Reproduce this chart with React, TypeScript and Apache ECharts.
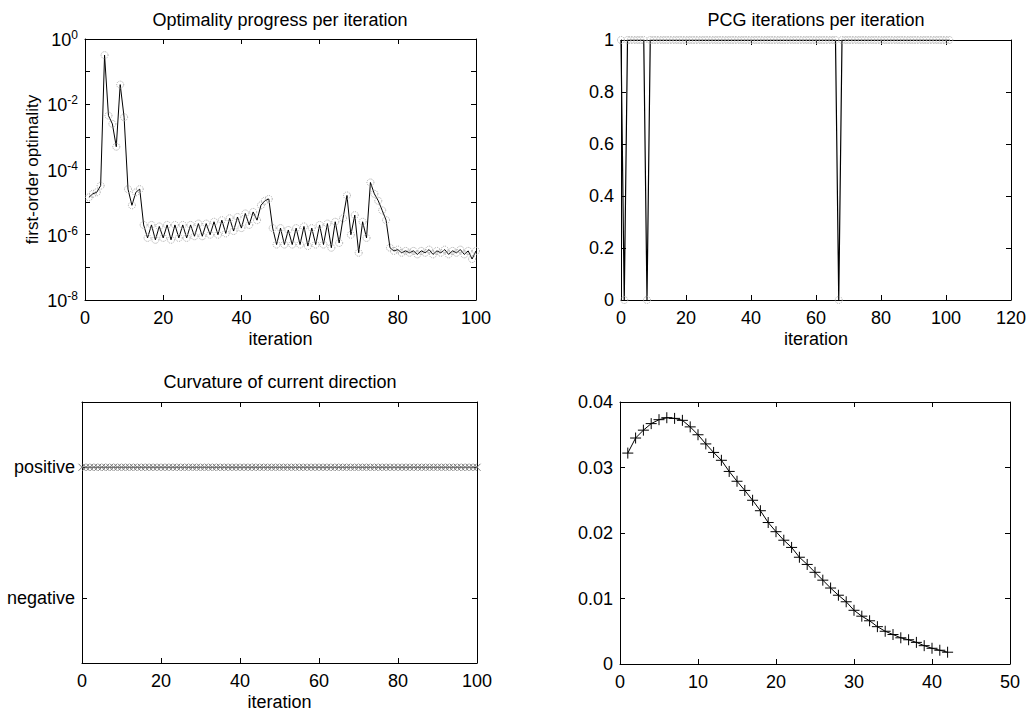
import React, { useEffect, useRef } from "react";
import * as echarts from "echarts";

const FONT = "'Liberation Sans', Arial, Helvetica, sans-serif";

// Panel 1: first-order optimality per iteration (iterations 1..100)
const optStart = 1;
const optValues = [
  1.4e-5, 1.8e-5, 2.0e-5, 3.2e-5, 0.32, 4.5e-3, 2.5e-3, 5.0e-4, 4.0e-2, 4.0e-3,
  2.5e-5, 8.0e-6, 2.0e-5, 2.5e-5, 2.0e-6, 8.0e-7, 2.0e-6, 7.0e-7, 1.8e-6, 8.0e-7,
  2.0e-6, 7.0e-7, 2.0e-6, 8.0e-7, 2.0e-6, 8.0e-7, 2.0e-6, 9.0e-7, 2.2e-6, 9.0e-7,
  2.2e-6, 1.0e-6, 2.5e-6, 1.0e-6, 2.8e-6, 1.1e-6, 3.2e-6, 1.3e-6, 3.5e-6, 1.6e-6,
  4.5e-6, 2.0e-6, 5.0e-6, 2.8e-6, 8.0e-6, 1.1e-5, 1.25e-5, 1.6e-6, 5.0e-7, 1.6e-6,
  5.0e-7, 1.4e-6, 5.0e-7, 1.6e-6, 5.0e-7, 1.8e-6, 4.5e-7, 1.6e-6, 5.0e-7, 2.0e-6,
  5.0e-7, 2.2e-6, 4.0e-7, 2.5e-6, 5.6e-7, 3.2e-6, 1.6e-5, 1.0e-6, 4.0e-6, 2.8e-7,
  2.5e-6, 8.0e-7, 4.0e-5, 1.8e-5, 1.1e-5, 5.6e-6, 2.8e-6, 4.0e-7, 3.2e-7, 3.5e-7,
  2.8e-7, 3.2e-7, 2.8e-7, 3.2e-7, 2.5e-7, 3.2e-7, 2.8e-7, 3.5e-7, 2.5e-7, 3.2e-7,
  2.8e-7, 3.5e-7, 2.5e-7, 3.2e-7, 2.8e-7, 3.5e-7, 2.5e-7, 3.2e-7, 1.8e-7, 3.2e-7,
];

// Panel 2: PCG iterations per iteration (iterations 0..101)
const pcgStart = 0;
const pcgValues = [
  1, 0, 1, 1, 1, 1, 1, 1, 0, 1,
  1, 1, 1, 1, 1, 1, 1, 1, 1, 1,
  1, 1, 1, 1, 1, 1, 1, 1, 1, 1,
  1, 1, 1, 1, 1, 1, 1, 1, 1, 1,
  1, 1, 1, 1, 1, 1, 1, 1, 1, 1,
  1, 1, 1, 1, 1, 1, 1, 1, 1, 1,
  1, 1, 1, 1, 1, 1, 1, 0, 1, 1,
  1, 1, 1, 1, 1, 1, 1, 1, 1, 1,
  1, 1, 1, 1, 1, 1, 1, 1, 1, 1,
  1, 1, 1, 1, 1, 1, 1, 1, 1, 1,
  1, 1,
];

// Panel 3: curvature of current direction (1 = positive, -1 = negative), iterations 0..100
const curvStart = 0;
const curvValues = [
  1, 1, 1, 1, 1, 1, 1, 1, 1, 1,
  1, 1, 1, 1, 1, 1, 1, 1, 1, 1,
  1, 1, 1, 1, 1, 1, 1, 1, 1, 1,
  1, 1, 1, 1, 1, 1, 1, 1, 1, 1,
  1, 1, 1, 1, 1, 1, 1, 1, 1, 1,
  1, 1, 1, 1, 1, 1, 1, 1, 1, 1,
  1, 1, 1, 1, 1, 1, 1, 1, 1, 1,
  1, 1, 1, 1, 1, 1, 1, 1, 1, 1,
  1, 1, 1, 1, 1, 1, 1, 1, 1, 1,
  1, 1, 1, 1, 1, 1, 1, 1, 1, 1,
  1,
];
const curvTickValues = [-1, 1];
const curvTickLabels = ["negative", "positive"];

// Panel 4: unlabeled curve (x = 1..42)
const stepStart = 1;
const stepValues = [
  0.0322, 0.0345, 0.0357, 0.0367, 0.0373, 0.0376, 0.0375, 0.0372, 0.0362, 0.0350,
  0.0336, 0.0323, 0.0311, 0.0294, 0.0279, 0.0265, 0.0250, 0.0234, 0.0216, 0.0202,
  0.0189, 0.0178, 0.0163, 0.0152, 0.0140, 0.0128, 0.0116, 0.0105, 0.0095, 0.0082,
  0.0073, 0.0066, 0.0057, 0.0050, 0.0045, 0.0040, 0.0037, 0.0033, 0.0028, 0.0024,
  0.0021, 0.0018,
];

const titles = [
  "Optimality progress per iteration",
  "PCG iterations per iteration",
  "Curvature of current direction",
];
const xName = "iteration";
const yName1 = "first-order optimality";

const toPairs = (vals: number[], start: number) => vals.map((v, i) => [start + i, v]);

const baseLabel = { color: "#000", fontSize: 18, fontFamily: FONT, margin: 9 };
const lineStyleAxis = { show: true, onZero: false, lineStyle: { color: "#000", width: 1 } };
const tickStyle = { show: true, inside: true, length: 5, lineStyle: { color: "#000", width: 1 } };

function xPair(gridIndex: number, min: number, max: number, interval: number, name?: string) {
  const common: any = {
    gridIndex,
    type: "value",
    min,
    max,
    interval,
    axisLine: lineStyleAxis,
    axisTick: tickStyle,
    splitLine: { show: false },
  };
  return [
    {
      ...common,
      position: "bottom",
      axisLabel: { ...baseLabel },
      name: name || "",
      nameLocation: "middle",
      nameGap: 30,
      nameTextStyle: { color: "#000", fontSize: 18, fontFamily: FONT, verticalAlign: "top" },
    },
    { ...common, position: "top", axisLabel: { show: false } },
  ];
}

function App() {
  const ref = useRef<HTMLDivElement>(null);

  useEffect(() => {
    if (!ref.current) return;
    const chart = echarts.init(ref.current, null, { renderer: "svg" });

    const grids = [
      { left: 85, top: 39, width: 391, height: 261 },
      { left: 621, top: 40, width: 390, height: 260 },
      { left: 82, top: 402, width: 395, height: 261 },
      { left: 620, top: 402, width: 390, height: 262 },
    ];

    const logCommon: any = {
      gridIndex: 0,
      type: "log",
      logBase: 10,
      min: 1e-8,
      max: 1,
      interval: 1,
      axisLine: lineStyleAxis,
      axisTick: tickStyle,
      splitLine: { show: false },
      minorTick: { show: false },
    };

    const valY = (gridIndex: number, min: number, max: number, interval: number, fmt?: (v: number) => string) => {
      const common: any = {
        gridIndex,
        type: "value",
        min,
        max,
        interval,
        axisLine: lineStyleAxis,
        axisTick: tickStyle,
        splitLine: { show: false },
      };
      return [
        { ...common, position: "left", axisLabel: { ...baseLabel, margin: 7, formatter: fmt } },
        { ...common, position: "right", axisLabel: { show: false } },
      ];
    };

    const curvCommon: any = {
      gridIndex: 2,
      type: "value",
      min: -2,
      max: 2,
      interval: 1,
      axisLine: lineStyleAxis,
      axisTick: { ...tickStyle, customValues: curvTickValues },
      splitLine: { show: false },
    };

    const option: any = {
      animation: false,
      backgroundColor: "#fff",
      textStyle: { fontFamily: FONT, color: "#000" },
      title: [
        { text: titles[0], left: 280, top: 11, textAlign: "center" },
        { text: titles[1], left: 816, top: 11, textAlign: "center" },
        { text: titles[2], left: 280, top: 373, textAlign: "center" },
      ].map((t) => ({
        ...t,
        padding: 0,
        textStyle: { color: "#000", fontSize: 18, fontWeight: "normal", fontFamily: FONT },
      })),
      grid: grids.map((g) => ({ ...g, show: false, containLabel: false })),
      xAxis: [
        ...xPair(0, 0, 100, 20, xName),
        ...xPair(1, 0, 120, 20, xName),
        ...xPair(2, 0, 100, 20, xName),
        ...xPair(3, 0, 50, 10),
      ],
      yAxis: [
        {
          ...logCommon,
          position: "left",
          name: yName1,
          nameLocation: "middle",
          nameGap: 44,
          nameTextStyle: { color: "#000", fontSize: 17, fontFamily: FONT },
          axisLabel: {
            ...baseLabel,
            margin: 7,
            formatter: (v: number) => {
              const e = Math.round(Math.log10(v));
              if (e % 2 !== 0) return "";
              return "{b|10}{s|" + e + "}";
            },
            rich: {
              b: { fontSize: 18, fontFamily: FONT, color: "#000", lineHeight: 20, verticalAlign: "bottom" },
              s: { fontSize: 12, fontFamily: FONT, color: "#000", lineHeight: 20, verticalAlign: "top", padding: [0, 0, 10, 0] },
            },
          },
        },
        { ...logCommon, position: "right", axisLabel: { show: false } },
        ...valY(1, 0, 1, 0.2),
        {
          ...curvCommon,
          position: "left",
          axisLabel: {
            color: "#000",
            fontSize: 18,
            fontFamily: FONT,
            margin: 7,
            formatter: (v: number) => {
              const idx = curvTickValues.indexOf(v);
              return idx >= 0 ? "{a|" + curvTickLabels[idx] + "}" : "";
            },
            rich: {
              a: { fontFamily: FONT, fontSize: 18, color: "#000" },
            },
          },
        },
        { ...curvCommon, position: "right", axisLabel: { show: false } },
        ...valY(3, 0, 0.04, 0.01, (v: number) => (v === 0 ? "0" : String(Math.round(v * 100) / 100))),
      ],
      series: [
        {
          type: "line",
          xAxisIndex: 0,
          yAxisIndex: 0,
          data: toPairs(optValues, optStart),
          lineStyle: { color: "#000", width: 1 },
          symbol: "circle",
          symbolSize: 7,
          itemStyle: { color: "rgba(0,0,0,0)", borderColor: "#a8a8a8", borderWidth: 1, borderType: "dotted" },
          silent: true,
        },
        {
          type: "line",
          xAxisIndex: 2,
          yAxisIndex: 2,
          data: toPairs(pcgValues, pcgStart),
          lineStyle: { color: "#000", width: 1.2 },
          symbol: "circle",
          symbolSize: 7,
          itemStyle: { color: "rgba(0,0,0,0)", borderColor: "#a8a8a8", borderWidth: 1, borderType: "dotted" },
          silent: true,
        },
        {
          type: "line",
          xAxisIndex: 4,
          yAxisIndex: 4,
          data: toPairs(curvValues, curvStart),
          lineStyle: { color: "#444", width: 1 },
          symbol: "path://M0,0L10,10M10,0L0,10",
          symbolSize: 7,
          itemStyle: { color: "rgba(0,0,0,0)", borderColor: "#777", borderWidth: 1 },
          silent: true,
        },
        {
          type: "line",
          xAxisIndex: 6,
          yAxisIndex: 6,
          data: toPairs(stepValues, stepStart),
          lineStyle: { color: "#000", width: 1 },
          symbol: "path://M5,0L5,10M0,5L10,5",
          symbolSize: 11,
          itemStyle: { color: "rgba(0,0,0,0)", borderColor: "#000", borderWidth: 1 },
          silent: true,
        },
      ],
    };

    chart.setOption(option);
    return () => chart.dispose();
  }, []);

  return (
    <div
      ref={ref}
      style={{ position: "fixed", left: 0, top: 0, width: 1030, height: 719, background: "#fff" }}
    />
  );
}

export default App;
